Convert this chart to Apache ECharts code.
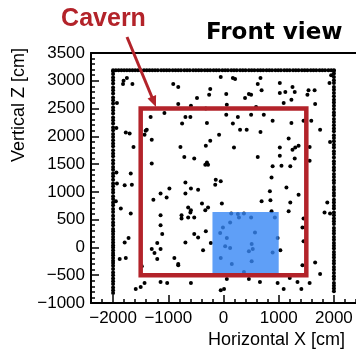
<!DOCTYPE html>
<html>
<head>
<meta charset="utf-8">
<script src="https://cdn.jsdelivr.net/npm/echarts@6/dist/echarts.min.js"></script>
<style>
  html, body { margin: 0; padding: 0; background: #fff; }
  #chart { width: 356px; height: 350px; }
</style>
</head>
<body>
<div id="chart"></div>
<script>
// Hit positions on the detector boundary (cm)
const wallLeftX = -2000;
const wallLeftZ = [-820, -770, -720, -660, -610, -560, -500, -450, -390, -330, -280, -240, -190, -140, -100, -50, 0, 40, 90, 140, 190, 240, 290, 330, 400, 450, 510, 570, 640, 690, 760, 810, 870, 920, 990, 1040, 1100, 1150, 1220, 1280, 1330, 1400, 1450, 1510, 1570, 1640, 1690, 1750, 1820, 1870, 1930, 1990, 2040, 2110, 2160, 2230, 2290, 2340, 2410, 2470, 2520, 2590, 2650, 2700, 2770, 2830, 2880, 2950, 3010, 3060, 3120, 3170];
const wallRightX = 2000;
const wallRightZ = [-790, -740, -690, -640, -570, -520, -460, -400, -350, -290, -240, -180, -130, -80, -20, 30, 80, 140, 190, 250, 300, 350, 420, 470, 520, 580, 630, 700, 750, 810, 860, 930, 980, 1040, 1090, 1160, 1210, 1270, 1320, 1390, 1440, 1500, 1550, 1620, 1680, 1730, 1800, 1850, 1910, 1970, 2020, 2090, 2140, 2200, 2260, 2310, 2380, 2430, 2490, 2550, 2610, 2660, 2720, 2780, 2840, 2890, 2960, 3010, 3070, 3130, 3180];
const ceilingZ = 3190;
const ceilingX = [-2000, -1950, -1900, -1850, -1800, -1750, -1700, -1650, -1600, -1550, -1500, -1440, -1390, -1340, -1290, -1240, -1190, -1130, -1080, -1030, -980, -920, -870, -820, -770, -710, -660, -610, -550, -500, -450, -400, -340, -290, -240, -180, -130, -80, -20, 30, 80, 140, 190, 240, 300, 350, 400, 460, 510, 560, 620, 670, 720, 780, 830, 880, 940, 990, 1040, 1100, 1150, 1200, 1260, 1310, 1360, 1420, 1470, 1520, 1580, 1630, 1680, 1740, 1790, 1840, 1900, 1950, 2000];

// Hit positions inside the hall: [X, Z] in cm
const innerHits = [
  [-1810, 3000], [-1750, 3050], [-1820, 2940], [-1650, 2940], [-910, 2940], [-820, 2890],
  [-1320, 2350], [-1070, 2420], [-50, 3070], [170, 3050], [210, 3030], [670, 3050],
  [620, 2940], [1020, 2960], [1250, 2890], [1920, 2960], [1950, 3100], [-240, 2850],
  [-260, 2750], [50, 2760], [460, 2760], [500, 2750], [390, 2690], [690, 2830],
  [1020, 2780], [1120, 2800], [1290, 2800], [1230, 2660], [1540, 2830], [1650, 2830],
  [1520, 2750], [1660, 2580], [-480, 2690], [-590, 2550], [-320, 2500], [60, 2570],
  [590, 2530], [1090, 2600], [-820, 2580], [-690, 2350], [-600, 2350], [-750, 2230],
  [-300, 2240], [50, 2390], [260, 2350], [500, 2390], [730, 2390], [170, 2230],
  [300, 2120], [420, 2120], [670, 2080], [890, 2280], [1230, 2240], [1450, 2280],
  [1590, 2280], [1750, 2120], [-80, 2030], [-240, 1920], [-320, 1830], [-780, 1810],
  [190, 1800], [1180, 1960], [1020, 1800], [1250, 1760], [1300, 1800], [1360, 1830],
  [1560, 1810], [1930, 1900], [-710, 1630], [-530, 1600], [-300, 1530], [-330, 1490],
  [-280, 1490], [620, 1630], [1020, 1650], [1290, 1600], [1560, 1560], [890, 1460],
  [1050, 1470], [1210, 1460], [-140, 1220], [-50, 1190], [-150, 1130], [-690, 1170],
  [870, 1260], [-590, 1060], [-460, 1040], [-690, 970], [1140, 1080], [840, 1010],
  [1360, 950], [690, 830], [850, 850], [1210, 810], [1880, 810], [-390, 790],
  [-30, 790], [-280, 720], [-640, 720], [-590, 670], [-600, 630], [-330, 670],
  [1180, 650], [1830, 630], [1930, 610], [-760, 580], [-760, 520], [1450, 520],
  [-530, 540], [-640, 540], [140, 610], [260, 600], [370, 610], [500, 540],
  [930, 540], [280, 540], [870, 650], [1430, 360], [1480, 360], [-320, 290],
  [-530, 240], [-460, 180], [-690, 90], [-230, 80], [-10, 360], [120, 450],
  [-60, 260], [60, 170], [30, 20], [120, -10], [-50, -190], [150, -300],
  [570, 270], [510, 60], [530, -30], [460, -70], [890, -90], [510, -250],
  [370, -440], [980, 170], [1030, -50], [1450, 110], [-370, -50], [1660, -270],
  [1430, -320], [1750, -480], [-820, -300], [-590, -640], [60, -570], [460, -570],
  [660, -620], [980, -640], [1090, -750], [1200, -550], [1340, -620], [1410, -750],
  [1560, -640], [-50, -770], [10, -750], [-1770, 2070], [-1700, 2050], [-1630, 1810],
  [-1430, 2030], [-1390, 2120], [-1410, 2100], [-1300, 1940], [-1300, 1510], [-1680, 1330],
  [-1790, 1120], [-1660, 1130], [-1930, 1150], [-980, 1060], [-1140, 970], [-1030, 900],
  [-1270, 860], [-1860, 700], [-1680, 610], [-1140, 580], [-1140, 400], [-1110, 240],
  [-1790, 90], [-1720, 170], [-1770, -190], [-1880, -210], [-1300, -30], [-1250, -100],
  [-1200, 80], [-1140, -30], [-1200, -210], [-890, -190], [-820, -320], [-1480, -340],
  [-1590, -750], [-1500, -710], [-1430, -640], [-1140, -620], [-1020, -640],
  [-1930, 2600], [-1940, 2150], [-1940, 1350], [-1950, 830]
];

// Cavern outline and the shaded region (cm)
const cavernX = [-1500, 1500];
const cavernZ = [-500, 2500];
const regionX = [-200, 1000];
const regionZ = [-500, 640];

// Axis ticks
const xMajorTicks = [-2000, -1000, 0, 1000, 2000];

const fmt = v => (v < 0 ? '\u2212' + Math.abs(v) : String(v));

const hits = []
  .concat(wallLeftZ.map(z => [wallLeftX, z]))
  .concat(wallRightZ.map(z => [wallRightX, z]))
  .concat(ceilingX.map(x => [x, ceilingZ]))
  .concat(innerHits);

const cavernPath = [
  [cavernX[0], cavernZ[0]], [cavernX[1], cavernZ[0]],
  [cavernX[1], cavernZ[1]], [cavernX[0], cavernZ[1]],
  [cavernX[0], cavernZ[0]]
];

const RED = '#b3232a';
const FONT = '"Liberation Sans", Arial, sans-serif';

const chart = echarts.init(document.getElementById('chart'), null, { renderer: 'canvas' });

const baseX = { type: 'value', min: -2400, max: 2400, gridIndex: 0, splitLine: { show: false } };

chart.setOption({
  animation: false,
  grid: { left: 91, right: -3, top: 53, bottom: 47, containLabel: false },
  xAxis: [
    Object.assign({}, baseX, {
      position: 'bottom',
      axisLine: { show: true, onZero: false, lineStyle: { color: '#000', width: 2 } },
      axisTick: { show: true, inside: true, length: 8, customValues: xMajorTicks, lineStyle: { color: '#000', width: 1.5 } },
      axisLabel: { show: true, customValues: xMajorTicks, formatter: fmt, color: '#000', fontSize: 17, fontFamily: FONT, margin: 7 }
    }),
    Object.assign({}, baseX, {
      position: 'bottom',
      interval: 200,
      axisLine: { show: false, onZero: false },
      axisTick: { show: true, inside: true, length: 4, lineStyle: { color: '#000', width: 1.5 } },
      axisLabel: { show: false }
    }),
    Object.assign({}, baseX, {
      position: 'top',
      axisLine: { show: true, onZero: false, lineStyle: { color: '#000', width: 2 } },
      axisTick: { show: false },
      axisLabel: { show: false }
    })
  ],
  yAxis: {
    type: 'value', min: -1000, max: 3500, interval: 500,
    splitLine: { show: false },
    axisLine: { show: true, onZero: false, lineStyle: { color: '#000', width: 2 } },
    axisTick: { show: true, inside: true, length: 8, lineStyle: { color: '#000', width: 1.5 } },
    minorTick: { show: true, splitNumber: 5, length: 4, lineStyle: { color: '#000', width: 1.5 } },
    axisLabel: { formatter: fmt, color: '#000', fontSize: 17, fontFamily: FONT, margin: 6 }
  },
  series: [
    {
      type: 'scatter',
      xAxisIndex: 0,
      data: hits,
      symbol: 'circle',
      symbolSize: 4,
      itemStyle: { color: '#000', opacity: 1 },
      silent: true,
      z: 2
    },
    {
      type: 'custom',
      xAxisIndex: 0,
      data: [[regionX[0], regionZ[0], regionX[1], regionZ[1]]],
      renderItem: (params, api) => {
        const p0 = api.coord([api.value(0), api.value(3)]);
        const p1 = api.coord([api.value(2), api.value(1)]);
        return {
          type: 'rect',
          shape: { x: p0[0], y: p0[1], width: p1[0] - p0[0], height: p1[1] - p0[1] },
          style: { fill: 'rgba(55,135,245,0.8)' }
        };
      },
      silent: true,
      z: 3
    },
    {
      type: 'line',
      xAxisIndex: 0,
      data: cavernPath,
      symbol: 'none',
      lineStyle: { color: RED, width: 4.5, join: 'miter', cap: 'square' },
      silent: true,
      z: 4
    }
  ]
});

// Annotations: title, axis titles and the labelled arrow
const arrowFrom = [127, 37];
const arrowTip = [156, 107];
const dx = arrowTip[0] - arrowFrom[0], dy = arrowTip[1] - arrowFrom[1];
const len = Math.hypot(dx, dy), ux = dx / len, uy = dy / len;
const headLen = 11, headHalf = 4.6;
const bx = arrowTip[0] - ux * headLen, by = arrowTip[1] - uy * headLen;

chart.setOption({
  graphic: [
    {
      type: 'text', x: 206, y: 33.5, z: 10,
      style: { text: 'Front view', fill: '#000', font: 'bold 23px "DejaVu Sans", sans-serif', textAlign: 'left', textVerticalAlign: 'middle' }
    },
    {
      type: 'text', x: 345, y: 340, z: 10,
      style: { text: 'Horizontal X [cm]', fill: '#000', font: '18px "Liberation Sans", Arial, sans-serif', textAlign: 'right', textVerticalAlign: 'middle' }
    },
    {
      type: 'text', x: 19, y: 48, rotation: Math.PI / 2, z: 10,
      style: { text: 'Vertical Z [cm]', fill: '#000', font: '18px "Liberation Sans", Arial, sans-serif', textAlign: 'right', textVerticalAlign: 'middle' }
    },
    {
      type: 'text', x: 103.5, y: 19.5, z: 10,
      style: { text: 'Cavern', fill: RED, font: 'bold 25px "Liberation Sans", Arial, sans-serif', textAlign: 'center', textVerticalAlign: 'middle' }
    },
    {
      type: 'line', z: 10,
      shape: { x1: arrowFrom[0], y1: arrowFrom[1], x2: bx + ux * 1, y2: by + uy * 1 },
      style: { stroke: RED, lineWidth: 3 }
    },
    {
      type: 'polygon', z: 10,
      shape: { points: [arrowTip, [bx - uy * headHalf, by + ux * headHalf], [bx + uy * headHalf, by - ux * headHalf]] },
      style: { fill: RED }
    }
  ]
});
</script>
</body>
</html>
